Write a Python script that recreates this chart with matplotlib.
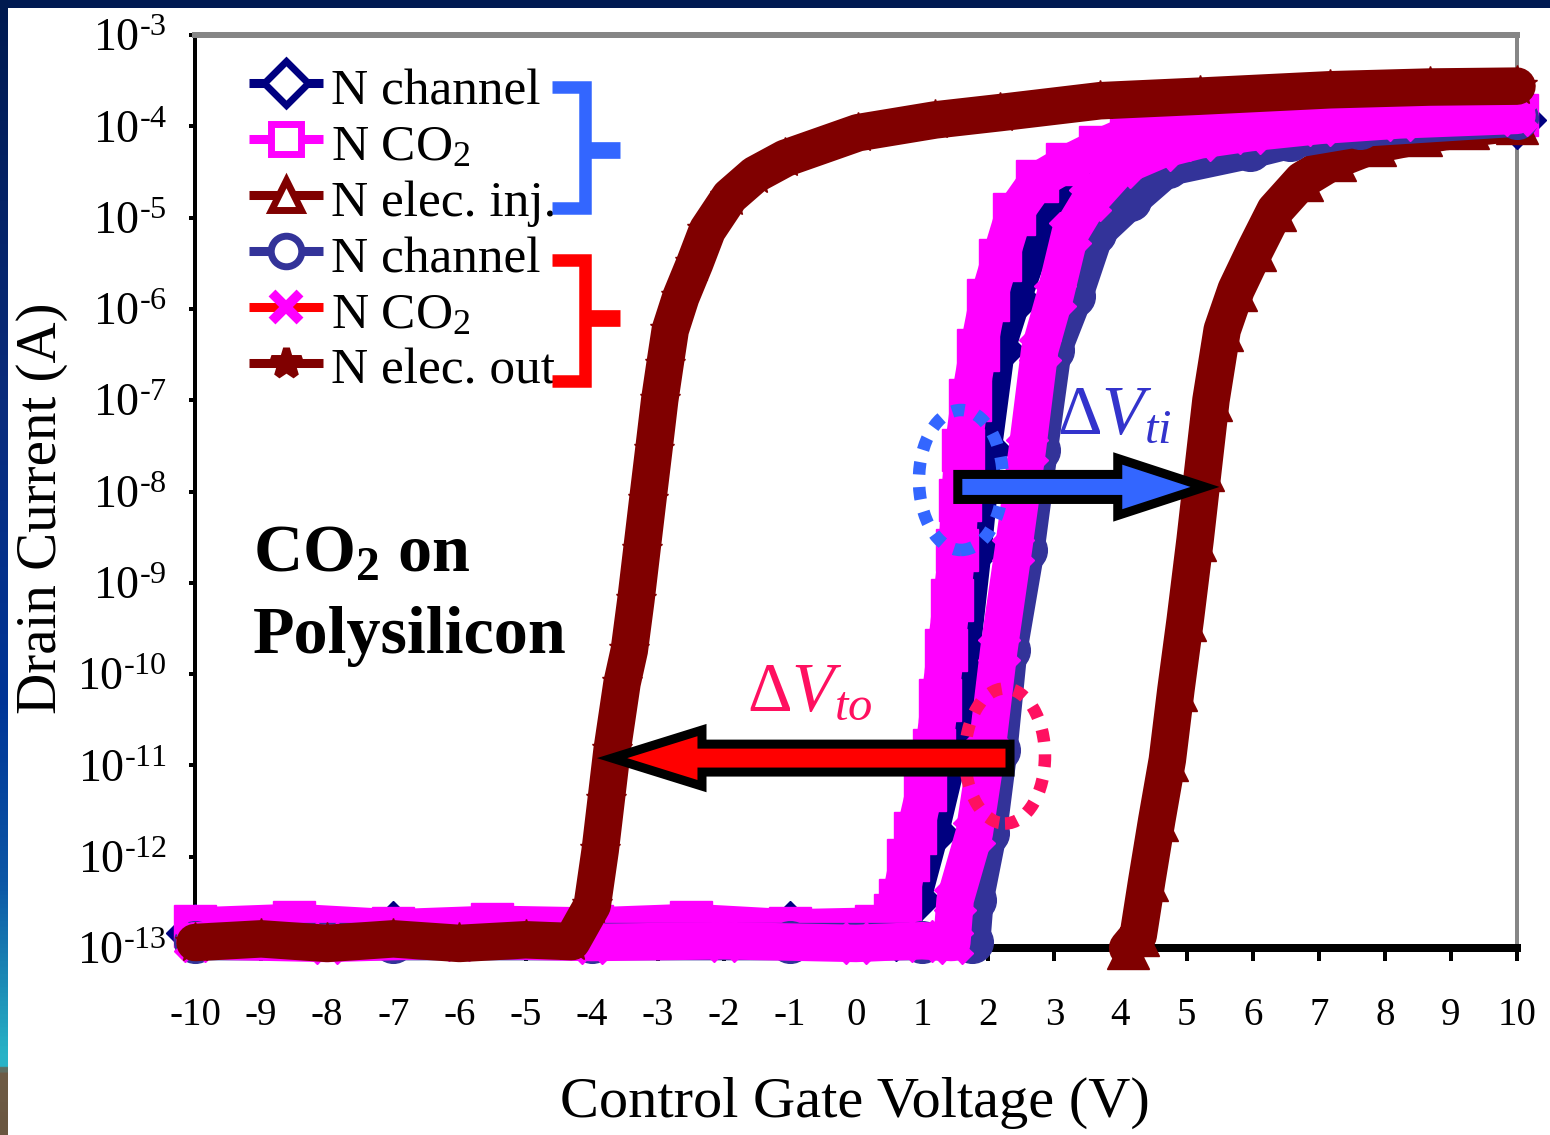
import numpy as np
import matplotlib
matplotlib.use("Agg")
import matplotlib.pyplot as plt
from matplotlib.patches import Polygon, Ellipse, Rectangle
from matplotlib.colors import LinearSegmentedColormap

plt.rcParams['font.family'] = ['Liberation Serif', 'DejaVu Serif']
plt.rcParams['mathtext.fontset'] = 'custom'
plt.rcParams['mathtext.rm'] = 'Liberation Serif'
plt.rcParams['mathtext.it'] = 'Liberation Serif:italic'
plt.rcParams['mathtext.bf'] = 'Liberation Serif:bold'
plt.rcParams['axes.unicode_minus'] = False

# ---------------- data: gate voltage (V) and log10 of drain current (A) ----------------
# sweep set 1 (blue brace)
vg_ch1 = [-10.0, -7.0, -4.0, -1.0, 0.6, 0.85, 1.12, 1.42, 1.60, 1.77, 1.92, 2.12, 2.36,
          2.63, 2.94, 3.13, 3.69, 4.45, 5.96, 8.23, 10.0]
log_ch1 = [-12.84, -12.80, -12.84, -12.80, -12.82, -12.47, -11.74, -10.83, -9.74, -8.64,
           -7.55, -6.45, -5.90, -5.35, -4.97, -4.81, -4.48, -4.26, -4.10, -3.99, -3.93]

vg_co2a = [-10.0, -8.5, -7.0, -5.5, -4.0, -2.5, -1.0, 0.3, 0.59, 0.67, 0.79, 0.89, 1.04,
           1.18, 1.27, 1.36, 1.45, 1.53, 1.57, 1.62, 1.72, 1.85, 2.00, 2.18, 2.39, 2.74,
           3.19, 3.69, 4.16, 4.93, 6.69, 9.06, 10.0]
log_co2a = [-12.76, -12.72, -12.78, -12.74, -12.76, -12.72, -12.78, -12.76, -12.64, -12.47,
            -12.04, -11.74, -11.27, -10.83, -10.28, -9.74, -9.19, -8.64, -8.09, -7.55,
            -7.00, -6.45, -5.90, -5.46, -4.96, -4.60, -4.41, -4.23, -4.08, -4.00, -3.94,
            -3.90, -3.88]

vg_inj = [4.11, 4.27, 4.40, 4.55, 4.71, 4.84, 4.98, 5.13, 5.25, 5.37, 5.54, 5.75, 6.04,
          6.34, 6.75, 7.25, 7.85, 8.55, 9.26, 10.0]
log_inj = [-13.0, -12.86, -12.26, -11.60, -10.94, -10.17, -9.41, -8.53, -7.76, -7.00,
           -6.23, -5.79, -5.35, -4.92, -4.59, -4.37, -4.20, -4.10, -4.02, -3.96]

# sweep set 2 (red brace)
vg_ch2 = [-10.0, -7.0, -4.0, -1.0, 1.0, 1.75, 1.80, 2.00, 2.16, 2.31, 2.57, 2.77, 2.98,
          3.30, 3.62, 4.15, 4.72, 5.96, 6.57, 7.63, 10.0]
log_ch2 = [-12.93, -12.93, -12.93, -12.93, -12.93, -12.93, -12.47, -11.74, -10.83, -9.74,
           -8.64, -7.55, -6.45, -5.86, -5.17, -4.81, -4.45, -4.26, -4.15, -4.02, -3.91]

vg_co2b = [-10.0, -8.0, -6.0, -4.0, -2.0, 0.0, 1.0, 1.45, 1.50, 1.79, 1.98, 2.16, 2.38,
           2.59, 2.78, 3.01, 3.24, 3.54, 3.99, 4.60, 5.20, 5.96, 7.02, 8.23, 10.0]
log_co2b = [-12.92, -12.95, -12.91, -12.94, -12.92, -12.95, -12.92, -12.94, -12.47, -11.74,
            -10.83, -9.74, -8.64, -7.55, -6.45, -5.86, -5.17, -4.81, -4.45, -4.26, -4.15,
            -4.07, -3.99, -3.93, -3.88]

vg_out = [-10.0, -9.0, -8.0, -7.0, -6.0, -5.0, -4.3, -3.99, -3.87, -3.78, -3.69, -3.54,
          -3.43, -3.33, -3.24, -3.15, -3.06, -2.97, -2.89, -2.81, -2.65, -2.44, -2.25,
          -1.91, -1.53, -1.07, 0.03, 1.20, 2.18, 3.69, 5.20, 7.17, 8.68, 10.0]
log_out = [-12.94, -12.90, -12.95, -12.90, -12.95, -12.91, -12.93, -12.53, -11.93, -11.38,
           -10.83, -10.10, -9.74, -9.19, -8.64, -8.09, -7.55, -7.00, -6.61, -6.23, -5.87,
           -5.50, -5.14, -4.77, -4.53, -4.35, -4.07, -3.93, -3.85, -3.72, -3.67, -3.60,
           -3.57, -3.56]

series_labels = ['N channel', 'N CO$_2$', 'N elec. inj.', 'N channel', 'N CO$_2$', 'N elec. out']

x_ticks = list(range(-10, 11))
x_tick_labels = [str(v) for v in x_ticks]
y_exponents = list(range(-13, -2))
y_tick_labels = [r'$10^{\text{-}%d}$' % (-e) for e in y_exponents]

# threshold shift markers: (gate voltage at tail, head base, tip, log10 current)
dvti_arrow = (1.54, 3.96, 5.28, -7.95)
dvto_arrow = (2.33, -2.33, -3.69, -10.92)

# ---------------- styling ----------------
NAVY = '#000080'
MAGENTA = '#FF00FF'
MAROON = '#800000'
SLATE = '#333399'
RED = '#FF0000'
BRACE_BLUE = '#3366FF'
TI_COLOR = '#3333CC'
TO_COLOR = '#FF1060'

W, H = 1550, 1135
PT = 72.0 / 100.0   # points per pixel at dpi 100

fig = plt.figure(figsize=(W / 100, H / 100), dpi=100)
fig.patch.set_facecolor('white')

# slide frame: dark top band and coloured left strip
fig.add_artist(Rectangle((0, 1 - 8 / H), 1, 8 / H, transform=fig.transFigure,
                         facecolor='#001a52', edgecolor='none', zorder=0))
strip = fig.add_axes([0, 0, 7 / W, 1])
strip_cmap = LinearSegmentedColormap.from_list(
    'strip', [(0.0, '#001a50'), (0.35, '#0a2c7c'), (0.62, '#003597'),
              (0.78, '#0c57a6'), (0.86, '#1b86b4'), (0.93, '#28b2c6'),
              (0.942, '#2ab4c8'), (0.946, '#6e5c46'), (1.0, '#6a5640')])
strip.imshow(np.linspace(0, 1, 600)[:, None], aspect='auto', cmap=strip_cmap,
             extent=[0, 1, 1, 0])
strip.set_axis_off()

ax = fig.add_axes([195 / W, 1 - 948 / H, 1322 / W, 913 / H])
ax.set_facecolor('white')
ax.set_yscale('log')
ax.set_xlim(-10, 10)
ax.set_ylim(1e-13, 1e-3)

LW = 27
MS = 30
curves = [
    (vg_ch1, log_ch1, NAVY, 'D'),
    (vg_co2a, log_co2a, MAGENTA, 's'),
    (vg_inj, log_inj, MAROON, '^'),
    (vg_ch2, log_ch2, SLATE, 'o'),
    (vg_co2b, log_co2b, MAGENTA, 'X'),
    (vg_out, log_out, MAROON, '*'),
]
for i, (vg, lg, col, mk) in enumerate(curves):
    ax.plot(vg, 10.0 ** np.asarray(lg), color=col, lw=LW, marker=mk, ms=MS,
            mfc=col, mec=col, clip_on=False, zorder=3 + 0.01 * i,
            solid_joinstyle='round', solid_capstyle='round')

# axes frame
for side in ('left', 'bottom'):
    ax.spines[side].set_color('black')
ax.spines['left'].set_linewidth(4 * PT)
ax.spines['bottom'].set_linewidth(8 * PT)
ax.spines['top'].set_color('#868686')
ax.spines['top'].set_linewidth(6 * PT)
ax.spines['right'].set_color('#868686')
ax.spines['right'].set_linewidth(4 * PT)

ax.set_xticks(x_ticks)
ax.set_xticklabels(x_tick_labels)
ax.set_yticks([10.0 ** e for e in y_exponents])
ax.set_yticklabels(y_tick_labels)
ax.minorticks_off()
ax.tick_params(axis='x', direction='out', length=13 * PT, width=4 * PT,
               pad=36 * PT, labelsize=28)
ax.tick_params(axis='y', direction='out', length=6 * PT, width=4 * PT,
               pad=22 * PT, labelsize=33)

fig.text(855 / W, 1 - 1103 / H, 'Control Gate Voltage (V)', fontsize=42,
         ha='center', va='center')
fig.text(42 / W, 1 - 508 / H, 'Drain Current (A)', fontsize=41, rotation=90,
         ha='center', va='center')

# legend drawn as sample lines with markers
legend_styles = [
    (NAVY, NAVY, 'D', 'white'),
    (MAGENTA, MAGENTA, 's', 'white'),
    (MAROON, MAROON, '^', 'white'),
    (SLATE, SLATE, 'o', 'white'),
    (RED, MAGENTA, 'x', MAGENTA),
    (MAROON, MAROON, '*', MAROON),
]
row0, row_step = 0.947, 0.0612
for k, (lab, (lcol, mcol, mk, face)) in enumerate(zip(series_labels, legend_styles)):
    yy = row0 - k * row_step
    ax.plot([0.0408, 0.0968], [yy, yy], color=lcol, lw=6.5, transform=ax.transAxes,
            clip_on=False, zorder=6, solid_capstyle='butt')
    ax.plot([0.0688], [yy], marker=mk, ms=22 if mk != 'x' else 20, mfc=face, mec=mcol,
            mew=5 if mk != 'x' else 7, transform=ax.transAxes, clip_on=False, zorder=6)
    ax.text(0.1029, yy - 0.023, lab, transform=ax.transAxes, fontsize=37,
            ha='left', va='baseline', zorder=6)

# braces grouping the legend entries
def brace(y_top, y_mid, y_bot, color):
    xs = [0.270, 0.295, 0.295, 0.270]
    ax.plot(xs, [y_top, y_top, y_bot, y_bot], color=color, lw=9, transform=ax.transAxes,
            clip_on=False, zorder=6, solid_joinstyle='miter', solid_capstyle='butt')
    ax.plot([0.295, 0.3215], [y_mid, y_mid], color=color, lw=12, transform=ax.transAxes,
            clip_on=False, zorder=6, solid_capstyle='butt')

brace(0.943, 0.874, 0.8105, BRACE_BLUE)
brace(0.7536, 0.690, 0.621, RED)

ax.text(0.0435, 0.412, 'CO$_\\mathbf{2}$ on', transform=ax.transAxes, fontsize=49,
        fontweight='bold', ha='left', va='baseline', zorder=6)
ax.text(0.0435, 0.323, 'Polysilicon', transform=ax.transAxes, fontsize=49,
        fontweight='bold', ha='left', va='baseline', zorder=6)

# dotted rings around the compared curves
ax.add_patch(Ellipse((0.5794, 0.5126), 0.0635, 0.1533, transform=ax.transAxes,
                     fill=False, edgecolor=BRACE_BLUE, lw=9, linestyle=(0, (1, 1)),
                     zorder=5, clip_on=False))
ax.add_patch(Ellipse((0.6127, 0.2103), 0.0605, 0.1479, transform=ax.transAxes,
                     fill=False, edgecolor=TO_COLOR, lw=9, linestyle=(0, (1, 1)),
                     zorder=5, clip_on=False))

# threshold-shift arrows
def shift_arrow(spec, face, shaft_half, head_half):
    tail, base, tip, lvl = spec
    pts = [(tail, lvl + shaft_half), (base, lvl + shaft_half), (base, lvl + head_half),
           (tip, lvl), (base, lvl - head_half), (base, lvl - shaft_half),
           (tail, lvl - shaft_half)]
    verts = [(v, 10.0 ** l) for v, l in pts]
    ax.add_patch(Polygon(verts, closed=True, facecolor=face, edgecolor='black',
                         lw=6.5, joinstyle='miter', zorder=7, clip_on=False))

shift_arrow(dvti_arrow, BRACE_BLUE, 0.137, 0.312)
shift_arrow(dvto_arrow, RED, 0.153, 0.307)

ax.text(0.652, 0.564, r'$\Delta V_{ti}$', transform=ax.transAxes, fontsize=50,
        color=TI_COLOR, ha='left', va='baseline', zorder=8)
ax.text(0.4175, 0.2607, r'$\Delta V_{to}$', transform=ax.transAxes, fontsize=50,
        color=TO_COLOR, ha='left', va='baseline', zorder=8)

fig.savefig('out.png', dpi=100, facecolor='white')
